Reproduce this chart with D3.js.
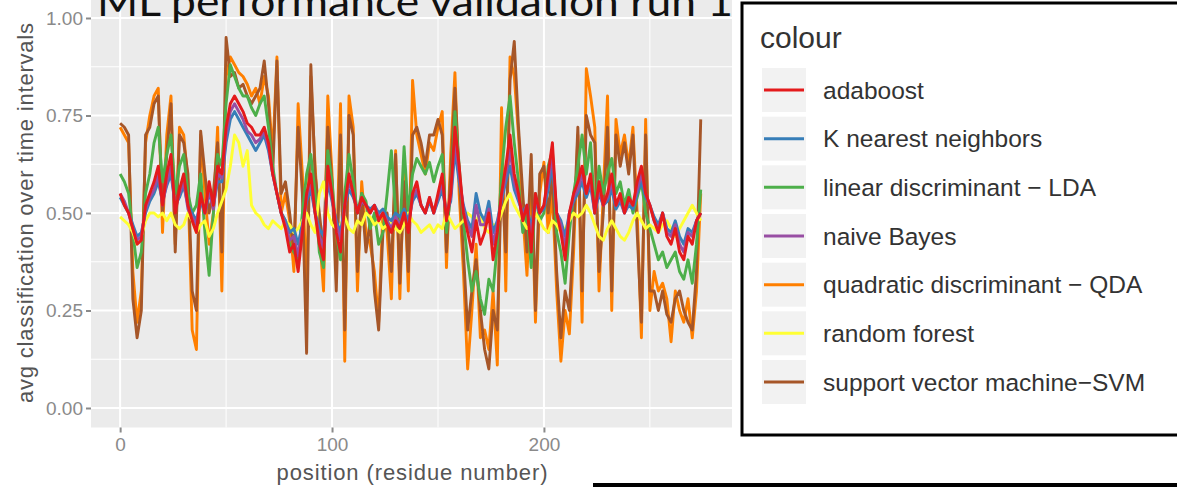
<!DOCTYPE html>
<html>
<head>
<meta charset="utf-8">
<script src="https://cdn.jsdelivr.net/npm/d3@7"></script>
<style>
  body { margin: 0; background: #fff; }
  text { font-family: "Liberation Sans", Arial, sans-serif; }
</style>
</head>
<body>
<svg id="chart" width="1177" height="487"></svg>
<script>
// residue positions, every 2nd residue
const positions = d3.range(0, 276, 2);

const adaboost = [
  0.55, 0.52, 0.5, 0.46, 0.42, 0.43, 0.52, 0.55, 0.58, 0.62,
  0.52, 0.6, 0.65, 0.5, 0.56, 0.6, 0.52, 0.48, 0.45, 0.55,
  0.5, 0.58, 0.52, 0.62, 0.6, 0.72, 0.78, 0.8, 0.78, 0.76,
  0.73, 0.72, 0.7, 0.7, 0.72, 0.68, 0.6, 0.55, 0.5, 0.46,
  0.4, 0.42, 0.35, 0.45, 0.55, 0.6, 0.5, 0.42, 0.38, 0.62,
  0.55, 0.45, 0.4, 0.52, 0.6, 0.55, 0.5, 0.54, 0.52, 0.5,
  0.52, 0.48, 0.5, 0.47, 0.45, 0.48, 0.46, 0.5, 0.45, 0.55,
  0.58, 0.52, 0.5, 0.54, 0.5, 0.55, 0.6, 0.48, 0.55, 0.72,
  0.62, 0.5, 0.45, 0.4, 0.48, 0.42, 0.45, 0.5, 0.38, 0.45,
  0.55, 0.62, 0.7, 0.6, 0.55, 0.48, 0.52, 0.4, 0.55, 0.5,
  0.52, 0.6, 0.68, 0.5, 0.45, 0.38, 0.5, 0.55, 0.58, 0.62,
  0.55, 0.6, 0.5, 0.58, 0.52, 0.55, 0.6, 0.52, 0.55, 0.5,
  0.54, 0.52, 0.58, 0.62, 0.55, 0.52, 0.48, 0.45, 0.5, 0.44,
  0.42, 0.46, 0.4, 0.38, 0.44, 0.42, 0.48, 0.5
];

const knn = [
  0.54, 0.52, 0.5, 0.47, 0.44, 0.45, 0.5, 0.53, 0.55, 0.58,
  0.53, 0.57, 0.6, 0.52, 0.54, 0.57, 0.52, 0.5, 0.48, 0.53,
  0.5, 0.55, 0.52, 0.58, 0.58, 0.68, 0.74, 0.76, 0.74, 0.72,
  0.7, 0.68, 0.66, 0.68, 0.7, 0.66, 0.6, 0.55, 0.5, 0.48,
  0.45, 0.46, 0.42, 0.47, 0.53, 0.56, 0.5, 0.46, 0.44, 0.58,
  0.53, 0.48, 0.45, 0.52, 0.56, 0.54, 0.51, 0.53, 0.52, 0.51,
  0.52, 0.5, 0.51, 0.49, 0.48, 0.5, 0.49, 0.51, 0.48, 0.53,
  0.55, 0.52, 0.5, 0.53, 0.5, 0.53, 0.56, 0.5, 0.53, 0.66,
  0.58, 0.52, 0.48, 0.46, 0.55, 0.5, 0.48, 0.53, 0.45, 0.48,
  0.53, 0.58, 0.62, 0.56, 0.53, 0.5, 0.52, 0.46, 0.53, 0.5,
  0.51, 0.56, 0.62, 0.5, 0.48, 0.44, 0.5, 0.53, 0.55, 0.58,
  0.54, 0.57, 0.5, 0.55, 0.52, 0.53, 0.56, 0.51, 0.53, 0.5,
  0.52, 0.51, 0.55, 0.58, 0.54, 0.52, 0.49, 0.47, 0.5, 0.46,
  0.45, 0.48, 0.44, 0.42, 0.46, 0.45, 0.48, 0.5
];

const lda = [
  0.6, 0.58, 0.55, 0.45, 0.36, 0.4, 0.55, 0.6, 0.68, 0.72,
  0.58, 0.65, 0.7, 0.55, 0.62, 0.65, 0.55, 0.5, 0.52, 0.6,
  0.45, 0.34, 0.5, 0.65, 0.62, 0.78, 0.88, 0.85, 0.82, 0.8,
  0.8, 0.77, 0.75, 0.78, 0.8, 0.72, 0.62, 0.55, 0.5, 0.48,
  0.42, 0.4, 0.38, 0.5, 0.6, 0.65, 0.55, 0.4, 0.36, 0.66,
  0.58, 0.45, 0.38, 0.55, 0.65, 0.58, 0.5, 0.55, 0.53, 0.46,
  0.5, 0.42, 0.45, 0.55, 0.66, 0.5, 0.45, 0.67, 0.5, 0.6,
  0.64, 0.62, 0.6, 0.63, 0.58, 0.62, 0.65, 0.45, 0.55, 0.76,
  0.62, 0.48, 0.38, 0.3, 0.35, 0.28, 0.24, 0.33, 0.3, 0.42,
  0.6, 0.72, 0.8, 0.68, 0.58, 0.45, 0.5, 0.36, 0.55, 0.48,
  0.5, 0.62, 0.66, 0.45, 0.4, 0.32, 0.45, 0.55, 0.62, 0.7,
  0.6, 0.68, 0.5, 0.62, 0.55, 0.6, 0.64, 0.55, 0.58, 0.52,
  0.56, 0.5, 0.54, 0.58, 0.5, 0.46, 0.42, 0.38, 0.4, 0.36,
  0.38, 0.4, 0.35, 0.33, 0.38, 0.32, 0.42, 0.56
];

const naiveBayes = [
  0.55, 0.53, 0.5, 0.46, 0.43, 0.44, 0.51, 0.54, 0.56, 0.6,
  0.52, 0.58, 0.62, 0.51, 0.55, 0.58, 0.51, 0.49, 0.47, 0.54,
  0.5, 0.56, 0.51, 0.6, 0.59, 0.7, 0.76, 0.78, 0.76, 0.74,
  0.71, 0.7, 0.68, 0.69, 0.71, 0.67, 0.6, 0.55, 0.5, 0.47,
  0.43, 0.44, 0.39, 0.46, 0.54, 0.58, 0.5, 0.44, 0.41, 0.6,
  0.54, 0.47, 0.43, 0.52, 0.58, 0.55, 0.5, 0.53, 0.52, 0.5,
  0.52, 0.49, 0.5, 0.48, 0.46, 0.49, 0.47, 0.5, 0.46, 0.54,
  0.56, 0.52, 0.5, 0.54, 0.5, 0.54, 0.58, 0.49, 0.54, 0.69,
  0.6, 0.51, 0.47, 0.44, 0.52, 0.47, 0.47, 0.51, 0.42, 0.47,
  0.54, 0.6, 0.66, 0.58, 0.54, 0.49, 0.52, 0.43, 0.54, 0.5,
  0.52, 0.58, 0.65, 0.5, 0.47, 0.41, 0.5, 0.54, 0.56, 0.6,
  0.55, 0.58, 0.5, 0.56, 0.52, 0.54, 0.58, 0.52, 0.54, 0.5,
  0.53, 0.52, 0.56, 0.6, 0.55, 0.52, 0.48, 0.46, 0.5, 0.45,
  0.44, 0.47, 0.42, 0.4, 0.45, 0.44, 0.48, 0.5
];

const qda = [
  0.72, 0.7, 0.68, 0.35, 0.22, 0.3, 0.68, 0.75, 0.8, 0.82,
  0.45, 0.7, 0.8, 0.42, 0.72, 0.7, 0.58, 0.2, 0.15, 0.7,
  0.55, 0.42, 0.5, 0.72, 0.3, 0.85, 0.9, 0.88, 0.86, 0.85,
  0.83, 0.8, 0.82, 0.78, 0.85, 0.8, 0.65, 0.9, 0.5, 0.55,
  0.48, 0.35, 0.78, 0.6, 0.3, 0.85, 0.62, 0.45, 0.3, 0.8,
  0.6, 0.35, 0.78, 0.12, 0.8, 0.72, 0.3, 0.58, 0.45, 0.42,
  0.35, 0.22, 0.5, 0.45, 0.28, 0.66, 0.28, 0.62, 0.3, 0.84,
  0.7, 0.65, 0.6, 0.68, 0.66, 0.72, 0.76, 0.36, 0.65, 0.86,
  0.55, 0.35, 0.1, 0.25, 0.42, 0.18, 0.2, 0.15, 0.3, 0.11,
  0.77, 0.3, 0.9, 0.85, 0.7, 0.5, 0.34, 0.6, 0.22, 0.55,
  0.63, 0.45, 0.55, 0.3, 0.12, 0.25, 0.19, 0.4, 0.7, 0.22,
  0.87, 0.8, 0.72, 0.3, 0.55, 0.8, 0.25, 0.74, 0.65, 0.7,
  0.62, 0.72, 0.5, 0.18, 0.74, 0.25, 0.35, 0.3, 0.32, 0.28,
  0.17, 0.3, 0.25, 0.22, 0.28, 0.18, 0.3, 0.55
];

const randomForest = [
  0.49, 0.48, 0.47, 0.45, 0.42, 0.44, 0.48, 0.5, 0.5, 0.49,
  0.5, 0.48, 0.5, 0.47, 0.46, 0.47, 0.5, 0.48, 0.45, 0.47,
  0.48, 0.44, 0.46, 0.5, 0.53, 0.56, 0.62, 0.7, 0.68, 0.62,
  0.66, 0.52, 0.5, 0.49, 0.47, 0.46, 0.48, 0.47, 0.46, 0.48,
  0.47, 0.45, 0.46, 0.48, 0.5, 0.47, 0.45, 0.55, 0.58, 0.5,
  0.47, 0.46, 0.47, 0.49, 0.46, 0.45, 0.48, 0.47, 0.5, 0.49,
  0.47, 0.48, 0.46, 0.47, 0.48, 0.46, 0.45, 0.47, 0.5, 0.48,
  0.47, 0.45, 0.46, 0.47, 0.45, 0.47, 0.46, 0.5, 0.48, 0.46,
  0.47, 0.48, 0.5, 0.49, 0.48, 0.5, 0.46, 0.45, 0.47, 0.47,
  0.5, 0.53, 0.55, 0.52, 0.5, 0.48, 0.46, 0.47, 0.5, 0.48,
  0.46, 0.45, 0.48, 0.47, 0.45, 0.46, 0.48, 0.5, 0.49, 0.5,
  0.52, 0.5, 0.47, 0.44, 0.43, 0.46, 0.48, 0.46, 0.44, 0.43,
  0.45, 0.48, 0.5, 0.48, 0.46, 0.47, 0.46, 0.45, 0.47, 0.48,
  0.46, 0.44, 0.46, 0.48, 0.5, 0.52, 0.5, 0.48
];

const svm = [
  0.73, 0.72, 0.7, 0.28, 0.18, 0.25, 0.7, 0.72, 0.78, 0.8,
  0.5, 0.65, 0.78, 0.4, 0.7, 0.68, 0.6, 0.3, 0.25, 0.71,
  0.6, 0.5, 0.55, 0.68, 0.4, 0.95, 0.85, 0.86, 0.82, 0.83,
  0.8, 0.78, 0.8, 0.82, 0.89, 0.78, 0.6, 0.89, 0.55, 0.58,
  0.5, 0.4, 0.72, 0.55, 0.14, 0.88, 0.6, 0.5, 0.4, 0.72,
  0.58, 0.3, 0.7, 0.2, 0.75, 0.7, 0.35, 0.55, 0.4, 0.48,
  0.3, 0.2, 0.45, 0.5, 0.35, 0.65, 0.32, 0.58, 0.35, 0.7,
  0.72, 0.68, 0.62, 0.7, 0.7, 0.74, 0.7, 0.4, 0.6, 0.82,
  0.6, 0.4, 0.2, 0.3, 0.38, 0.25, 0.15, 0.1, 0.25, 0.2,
  0.6, 0.4, 0.84, 0.94, 0.72, 0.55, 0.4, 0.65, 0.25, 0.6,
  0.62, 0.5, 0.6, 0.35, 0.18, 0.3, 0.25, 0.45, 0.72, 0.3,
  0.75, 0.7, 0.68, 0.35, 0.5, 0.72, 0.3, 0.7, 0.62, 0.68,
  0.6, 0.7, 0.45, 0.22, 0.7, 0.3, 0.3, 0.25, 0.3, 0.24,
  0.22, 0.28, 0.3, 0.25, 0.22, 0.2, 0.35, 0.74
];

const labels = [
  'adaboost', 'K nearest neighbors', 'linear discriminant \u2212 LDA', 'naive Bayes',
  'quadratic discriminant \u2212 QDA', 'random forest', 'support vector machine\u2212SVM'
];
const colours = ['#e41a1c', '#377eb8', '#4daf4a', '#984ea3', '#ff7f00', '#ffff33', '#a65628'];
const seriesData = [adaboost, knn, lda, naiveBayes, qda, randomForest, svm];
const drawOrder = [4, 6, 2, 5, 1, 3, 0];

const xTicks = [0, 100, 200];
const yTicks = [0, 0.25, 0.5, 0.75, 1];

const svg = d3.select('#chart');

const panel = { left: 91, right: 732, top: -1.5, bottom: 427.5 };
const x = d3.scaleLinear().domain([-13.75, 288.75]).range([panel.left, panel.right]);
const y = d3.scaleLinear().domain([-0.05, 1.05]).range([panel.bottom, panel.top]);

svg.append('rect')
  .attr('x', panel.left).attr('y', 0)
  .attr('width', panel.right - panel.left)
  .attr('height', panel.bottom)
  .attr('fill', '#ebebeb');

/// grid lines
const minorX = [50, 150, 250];
const minorY = [0.125, 0.375, 0.625, 0.875];
const grid = svg.append('g');
grid.selectAll('.vmin').data(minorX).enter().append('line')
  .attr('x1', d => x(d)).attr('x2', d => x(d))
  .attr('y1', 0).attr('y2', panel.bottom)
  .attr('stroke', '#fff').attr('stroke-width', 1);
grid.selectAll('.hmin').data(minorY).enter().append('line')
  .attr('x1', panel.left).attr('x2', panel.right)
  .attr('y1', d => y(d)).attr('y2', d => y(d))
  .attr('stroke', '#fff').attr('stroke-width', 1);
grid.selectAll('.vmaj').data(xTicks).enter().append('line')
  .attr('x1', d => x(d)).attr('x2', d => x(d))
  .attr('y1', 0).attr('y2', panel.bottom)
  .attr('stroke', '#fff').attr('stroke-width', 2);
grid.selectAll('.hmaj').data(yTicks).enter().append('line')
  .attr('x1', panel.left).attr('x2', panel.right)
  .attr('y1', d => y(d)).attr('y2', d => y(d))
  .attr('stroke', '#fff').attr('stroke-width', 2);

/// series lines
const line = d3.line()
  .x((_, i) => x(positions[i]))
  .y(d => y(d));

svg.append('g')
  .selectAll('path')
  .data(drawOrder)
  .enter().append('path')
  .attr('d', k => line(seriesData[k]))
  .attr('fill', 'none')
  .attr('stroke', k => colours[k])
  .attr('stroke-width', 2.9)
  .attr('stroke-linejoin', 'round');

/// axes
const styleAxis = (g) => {
  g.select('.domain').remove();
  g.selectAll('.tick line').attr('stroke', '#8a8a8a').attr('stroke-width', 2);
  g.selectAll('.tick text')
    .attr('fill', '#8a8a8a')
    .style('font-size', '19px')
    .style('font-family', '"Liberation Sans", Arial, sans-serif');
};

svg.append('g')
  .attr('transform', `translate(0,${panel.bottom})`)
  .call(d3.axisBottom(x).tickValues(xTicks).tickSize(5).tickPadding(5))
  .call(styleAxis);

svg.append('g')
  .attr('transform', `translate(${panel.left},0)`)
  .call(d3.axisLeft(y).tickValues(yTicks).tickFormat(d3.format('.2f')).tickSize(5).tickPadding(3))
  .call(styleAxis);

svg.append('text')
  .attr('x', 412).attr('y', 480)
  .attr('text-anchor', 'middle')
  .attr('fill', '#555')
  .style('font-size', '22px')
  .attr('textLength', 271)
  .text('position (residue number)');

svg.append('text')
  .attr('transform', 'translate(33,213) rotate(-90)')
  .attr('text-anchor', 'middle')
  .attr('fill', '#555')
  .style('font-size', '22px')
  .attr('textLength', 380)
  .text('avg classification over time intervals');

svg.append('text')
  .attr('x', 97).attr('y', 16)
  .attr('fill', '#111')
  .style('font-family', 'Lato, "Open Sans", sans-serif')
  .style('font-size', '40px')
  .attr('textLength', 636)
  .attr('lengthAdjust', 'spacingAndGlyphs')
  .text('ML performance validation run 1');

/// legend overlay
const legend = svg.append('g');
legend.append('rect')
  .attr('x', 742).attr('y', 3)
  .attr('width', 460).attr('height', 432)
  .attr('fill', '#fff')
  .attr('stroke', '#000')
  .attr('stroke-width', 3);

legend.append('text')
  .attr('x', 760).attr('y', 48)
  .attr('fill', '#333')
  .style('font-size', '30px')
  .text('colour');

const rowY = d3.scaleLinear().domain([0, 6]).range([90, 382]);
const rows = legend.selectAll('.row')
  .data(labels)
  .enter().append('g')
  .attr('transform', (_, i) => `translate(0,${rowY(i)})`);

rows.append('rect')
  .attr('x', 762).attr('y', -22)
  .attr('width', 44).attr('height', 44)
  .attr('fill', '#f2f2f2');
rows.append('line')
  .attr('x1', 764).attr('x2', 804)
  .attr('stroke', (_, i) => colours[i])
  .attr('stroke-width', 3);
rows.append('text')
  .attr('x', 823).attr('dy', '0.35em')
  .attr('fill', '#333')
  .style('font-size', '24.5px')
  .text(d => d);

svg.append('rect')
  .attr('x', 593).attr('y', 483)
  .attr('width', 600).attr('height', 4)
  .attr('fill', '#000');
</script>
</body>
</html>
